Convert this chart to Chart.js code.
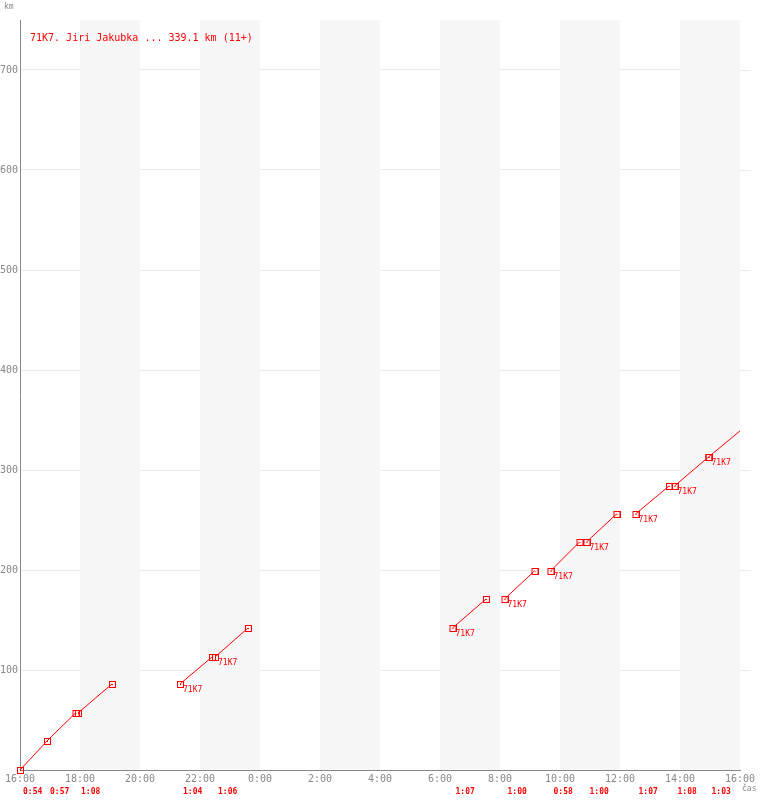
<!DOCTYPE html>
<html>
<head>
<meta charset="utf-8">
<script src="https://cdn.jsdelivr.net/npm/chart.js@4"></script>
<style>
  html, body { margin: 0; padding: 0; background: #fff; }
  #c { display: block; }
</style>
</head>
<body>
<canvas id="c" width="760" height="800"></canvas>
<script>
// Lap chart: cumulative km vs. time of day (16:00 -> 16:00 next day).
// Every lap is one red segment; laps are separated by null gaps.

const riderTitle = '71K7. Jiri Jakubka ... 339.1 km (11+)';

// minutes after 16:00
const lapStartMin = [0, 54, 116, 320, 390, 865, 969, 1061, 1133, 1231, 1309, 1377];
const lapEndMin   = [54, 111, 184, 384, 456, 932, 1029, 1119, 1193, 1298, 1377, 1440];

// cumulative km
const lapStartKm = [0, 29, 57, 86, 113, 142, 171, 199, 228, 256, 284, 313];
const lapEndKm   = [29, 57, 86, 113, 142, 171, 199, 228, 256, 284, 313, 339.1];

const lapTimes = ['0:54', '0:57', '1:08', '1:04', '1:06', '1:07', '1:00', '0:58', '1:00', '1:07', '1:08', '1:03'];
const lapTags  = ['', '', '', '71K7', '71K7', '71K7', '71K7', '71K7', '71K7', '71K7', '71K7', '71K7'];

// shaded 2-hour bands (minutes after 16:00)
const bandStartMin = [120, 360, 600, 840, 1080, 1320];
const bandLenMin = 120;

const RED = '#ff0000';
const GREY = '#888888';
const MONO = '"DejaVu Sans Mono", "Liberation Mono", monospace';

// hollow square with a dot, used as point marker
function makeMarker() {
    const cv = document.createElement('canvas');
    cv.width = 8; cv.height = 8;
    const g = cv.getContext('2d');
    g.strokeStyle = RED;
    g.lineWidth = 1;
    g.strokeRect(1.5, 1.5, 6, 6);
    g.fillStyle = RED;
    g.fillRect(4, 4, 1, 1);
    return cv;
}
const marker = makeMarker();

// build the line data with null separators
const points = [];
const radii = [];
lapStartMin.forEach((s, i) => {
    points.push({ x: s, y: lapStartKm[i] });
    radii.push(4);
    points.push({ x: lapEndMin[i], y: lapEndKm[i] });
    radii.push(i === lapStartMin.length - 1 ? 0 : 4); // last end is off the chart edge
    points.push({ x: lapEndMin[i], y: null });
    radii.push(0);
});

const bandsPlugin = {
    id: 'bands',
    beforeDatasetsDraw(chart) {
        const { ctx, chartArea, scales: { x } } = chart;
        ctx.save();
        ctx.fillStyle = '#f7f7f7';
        bandStartMin.forEach(b => {
            const x0 = x.getPixelForValue(b);
            const x1 = x.getPixelForValue(b + bandLenMin);
            ctx.fillRect(x0, chartArea.top, x1 - x0, chartArea.bottom - chartArea.top);
        });
        ctx.restore();
    },
};

const textPlugin = {
    id: 'texts',
    afterDatasetsDraw(chart) {
        const { ctx, chartArea, scales: { x, y } } = chart;
        ctx.save();
        ctx.textBaseline = 'middle';
        ctx.textAlign = 'left';

        // title
        ctx.fillStyle = RED;
        ctx.font = '10px ' + MONO;
        ctx.fillText(riderTitle, chartArea.left + 10, chartArea.top + 18);

        // rider tags next to lap starts
        ctx.font = '8px ' + MONO;
        lapTags.forEach((t, i) => {
            if (!t) return;
            ctx.fillText(t, x.getPixelForValue(lapStartMin[i]) + 3, y.getPixelForValue(lapStartKm[i]) + 6);
        });

        // lap durations under the axis
        ctx.font = 'bold 8px ' + MONO;
        lapTimes.forEach((t, i) => {
            ctx.fillText(t, x.getPixelForValue(lapStartMin[i]) + 3, chartArea.bottom + 22);
        });

        // axis names
        ctx.fillStyle = GREY;
        ctx.font = '8px ' + MONO;
        ctx.fillText('km', 4, 7);
        ctx.fillText('čas', chartArea.right + 2, chartArea.bottom + 19);

        // grid lines run a little past the plot on the right
        ctx.strokeStyle = '#ebebeb';
        ctx.lineWidth = 1;
        y.ticks.forEach(tk => {
            const py = Math.round(y.getPixelForValue(tk.value)) + 0.5;
            if (tk.value === 0) return;
            ctx.beginPath();
            ctx.moveTo(chartArea.right, py);
            ctx.lineTo(chartArea.right + 11, py);
            ctx.stroke();
        });
        ctx.restore();
    },
};

new Chart(document.getElementById('c'), {
    type: 'line',
    data: {
        datasets: [{
            data: points,
            borderColor: RED,
            borderWidth: 1,
            spanGaps: false,
            tension: 0,
            clip: false,
            pointStyle: marker,
            pointRadius: radii,
            pointHoverRadius: radii,
        }],
    },
    options: {
        responsive: false,
        animation: false,
        events: [],
        layout: { padding: { top: 20, right: 20, left: 0, bottom: 0 } },
        plugins: {
            legend: { display: false },
            tooltip: { enabled: false },
        },
        scales: {
            x: {
                type: 'linear',
                min: 0,
                max: 1440,
                afterFit(s) { s.height = 30; },
                grid: { display: false, drawTicks: false },
                border: { display: true, color: GREY, width: 1 },
                ticks: {
                    stepSize: 120,
                    autoSkip: false,
                    maxRotation: 0,
                    padding: 3,
                    color: GREY,
                    font: { family: MONO, size: 10 },
                    callback: v => `${(16 + v / 60) % 24}:00`,
                },
            },
            y: {
                type: 'linear',
                min: 0,
                max: 750,
                afterFit(s) { s.width = 20; },
                grid: {
                    drawTicks: false,
                    color: ctx => (ctx.tick && ctx.tick.value === 0 ? 'rgba(0,0,0,0)' : '#ebebeb'),
                },
                border: { display: true, color: GREY, width: 1 },
                ticks: {
                    stepSize: 100,
                    includeBounds: false,
                    padding: 2,
                    color: GREY,
                    font: { family: MONO, size: 10 },
                    callback: v => (v === 0 ? '' : v),
                },
            },
        },
    },
    plugins: [bandsPlugin, textPlugin],
});
</script>
</body>
</html>
